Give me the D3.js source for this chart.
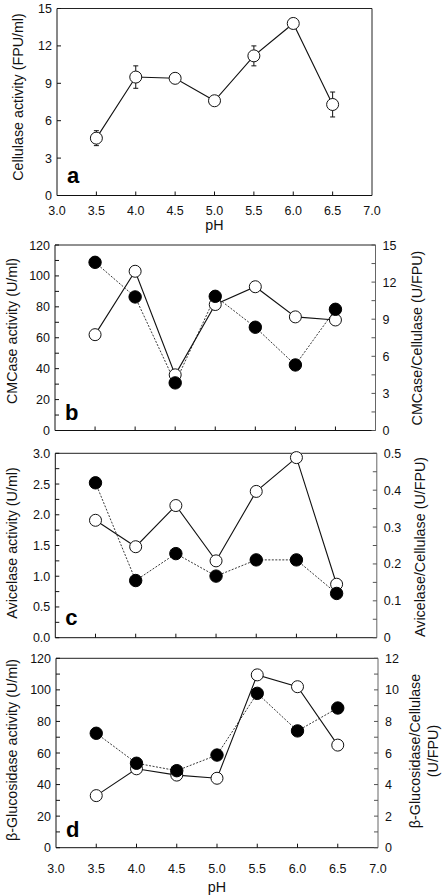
<!DOCTYPE html>
<html><head><meta charset="utf-8">
<script src="https://cdn.jsdelivr.net/npm/d3@7"></script>
<style>
html,body{margin:0;padding:0;background:#fff;}
svg{display:block;font-family:"Liberation Sans",Arial,Helvetica,sans-serif;}
</style></head>
<body>
<svg id="chart" width="444" height="896"></svg>
<script>
// ---- data ----
const pH = [3.5, 4.0, 4.5, 5.0, 5.5, 6.0, 6.5];
const xTicks = [3.0, 3.5, 4.0, 4.5, 5.0, 5.5, 6.0, 6.5, 7.0];

const cellulase = [4.6, 9.5, 9.4, 7.6, 11.2, 13.8, 7.3];
const cellulaseErr = [0.6, 0.9, 0.3, 0.3, 0.8, 0.3, 1.0];

const cmcase = [62, 103, 36, 81.5, 93, 73.5, 71.5];
const cmcaseRatio = [13.6, 10.8, 3.85, 10.85, 8.35, 5.3, 9.8];

const avicelase = [1.91, 1.48, 2.15, 1.25, 2.38, 2.93, 0.87];
const avicelaseRatio = [0.42, 0.155, 0.228, 0.167, 0.211, 0.211, 0.12];

const bgluc = [33, 50, 46, 44, 109.5, 102, 65];
const bglucRatio = [7.25, 5.35, 4.88, 5.87, 9.78, 7.4, 8.85];

const aYTicks = [0, 3, 6, 9, 12, 15];
const bYTicks = [0, 20, 40, 60, 80, 100, 120];
const bRTicks = [0, 3, 6, 9, 12, 15];
const cYTicks = [0, 0.5, 1.0, 1.5, 2.0, 2.5, 3.0];
const cRTicks = [0, 0.1, 0.2, 0.3, 0.4, 0.5];
const dYTicks = [0, 20, 40, 60, 80, 100, 120];
const dRTicks = [0, 2, 4, 6, 8, 10, 12];

const svg = d3.select("#chart");
const TICK = 4;
const TICKFS = 12.5;
const TITLEFS = 14.3;

function panel(cfg) {
  const g = svg.append("g");
  const x = d3.scaleLinear().domain([3, 7]).range([cfg.left, cfg.right]);
  const y = d3.scaleLinear().domain([0, cfg.yMax]).range([cfg.bottom, cfg.top]);
  const yr = cfg.rMax ? d3.scaleLinear().domain([0, cfg.rMax]).range([cfg.bottom, cfg.top]) : null;

  // frame
  g.append("line").attr("x1", cfg.left).attr("x2", cfg.right).attr("y1", cfg.top).attr("y2", cfg.top).attr("stroke", "#222");
  g.append("line").attr("x1", cfg.left).attr("x2", cfg.right).attr("y1", cfg.bottom).attr("y2", cfg.bottom).attr("stroke", "#111");
  g.append("line").attr("x1", cfg.left).attr("x2", cfg.left).attr("y1", cfg.top).attr("y2", cfg.bottom).attr("stroke", "#111");
  g.append("line").attr("x1", cfg.right).attr("x2", cfg.right).attr("y1", cfg.top).attr("y2", cfg.bottom).attr("stroke", cfg.rMax ? "#666" : "#222");

  // x ticks (inward)
  g.selectAll(".xt").data(xTicks.slice(1, -1)).enter().append("line")
    .attr("x1", d => x(d)).attr("x2", d => x(d))
    .attr("y1", cfg.bottom).attr("y2", cfg.bottom - TICK).attr("stroke", "#111");
  if (cfg.xLabels) {
    g.selectAll(".xl").data(xTicks).enter().append("text")
      .attr("x", d => x(d)).attr("y", cfg.bottom + cfg.xLabOff)
      .attr("text-anchor", "middle").attr("font-size", TICKFS).attr("fill", "#111")
      .text(d => d.toFixed(1));
    g.append("text").attr("x", (cfg.left + cfg.right) / 2).attr("y", cfg.bottom + cfg.pHOff)
      .attr("text-anchor", "middle").attr("font-size", TITLEFS).attr("fill", "#111").text("pH");
  }

  // left y ticks
  const yt = cfg.yTicks;
  g.selectAll(".yt").data(yt).enter().append("line")
    .attr("x1", cfg.left).attr("x2", cfg.left + TICK)
    .attr("y1", d => y(d)).attr("y2", d => y(d)).attr("stroke", "#111");
  if (cfg.minor) {
    const mids = yt.slice(0, -1).map((d, i) => (d + yt[i + 1]) / 2);
    g.selectAll(".ym").data(mids).enter().append("line")
      .attr("x1", cfg.left).attr("x2", cfg.left + TICK)
      .attr("y1", d => y(d)).attr("y2", d => y(d)).attr("stroke", "#111");
  }
  g.selectAll(".yl").data(yt).enter().append("text")
    .attr("x", cfg.left - 5).attr("y", d => y(d) + 4.5)
    .attr("text-anchor", "end").attr("font-size", TICKFS).attr("fill", "#111")
    .text(d => cfg.yFmt(d));
  g.append("text")
    .attr("transform", `translate(${cfg.yTitleX},${cfg.yTitleY}) rotate(-90)`)
    .attr("text-anchor", "middle").attr("font-size", TITLEFS).attr("fill", "#111")
    .text(cfg.yTitle);

  // right axis
  if (yr) {
    const rt = cfg.rTicks;
    const mids = rt.slice(0, -1).map((d, i) => (d + rt[i + 1]) / 2);
    g.selectAll(".rt").data(rt.concat(mids)).enter().append("line")
      .attr("x1", cfg.right).attr("x2", cfg.right - TICK)
      .attr("y1", d => yr(d)).attr("y2", d => yr(d)).attr("stroke", "#555");
    g.selectAll(".rl").data(rt).enter().append("text")
      .attr("x", cfg.right + 7).attr("y", d => yr(d) + 4.5)
      .attr("text-anchor", "start").attr("font-size", TICKFS).attr("fill", "#111")
      .text(d => cfg.rFmt(d));
    cfg.rTitle.forEach((t, i) => {
      g.append("text")
        .attr("transform", `translate(${cfg.rTitleX + i * 18},${cfg.rTitleY}) rotate(-90)`)
        .attr("text-anchor", "middle").attr("font-size", TITLEFS).attr("fill", "#111")
        .text(t);
    });
  }

  // panel letter
  g.append("text").attr("x", cfg.left + 10).attr("y", cfg.letterY)
    .attr("font-size", 22).attr("font-weight", "bold").attr("fill", "#000").text(cfg.letter);

  const line = d3.line().x((d, i) => x(pH[i]));

  // error bars
  if (cfg.err) {
    cfg.open.forEach((v, i) => {
      const e = cfg.err[i];
      const px = x(pH[i]);
      g.append("line").attr("x1", px).attr("x2", px).attr("y1", y(v - e)).attr("y2", y(v + e)).attr("stroke", "#111");
      [v - e, v + e].forEach(w => {
        g.append("line").attr("x1", px - 2.5).attr("x2", px + 2.5).attr("y1", y(w)).attr("y2", y(w)).attr("stroke", "#111");
      });
    });
  }

  if (cfg.filled) {
    g.append("path").datum(cfg.filled)
      .attr("d", line.y(d => yr(d)))
      .attr("fill", "none").attr("stroke", "#222").attr("stroke-width", 0.9).attr("stroke-dasharray", "2,1.5");
  }
  g.append("path").datum(cfg.open)
    .attr("d", line.y(d => y(d)))
    .attr("fill", "none").attr("stroke", "#111").attr("stroke-width", 1.1);

  g.selectAll(".po").data(cfg.open).enter().append("circle")
    .attr("cx", (d, i) => x(pH[i])).attr("cy", d => y(d)).attr("r", 6)
    .attr("fill", "#fff").attr("stroke", "#111").attr("stroke-width", 1);
  if (cfg.filled) {
    g.selectAll(".pf").data(cfg.filled).enter().append("circle")
      .attr("cx", (d, i) => x(pH[i])).attr("cy", d => yr(d)).attr("r", 6.2)
      .attr("fill", "#000").attr("stroke", "#000");
  }
}

panel({
  left: 57, right: 372, top: 8.5, bottom: 195.5,
  yMax: 15, yTicks: aYTicks, yFmt: d => d, minor: false,
  yTitle: "Cellulase activity (FPU/ml)", yTitleX: 23, yTitleY: 97,
  open: cellulase, err: cellulaseErr,
  letter: "a", letterY: 183, xLabels: true, xLabOff: 19.5, pHOff: 34.5
});
panel({
  left: 55, right: 375.5, top: 245, bottom: 430.5,
  yMax: 120, yTicks: bYTicks, yFmt: d => d, minor: true,
  rMax: 15, rTicks: bRTicks, rFmt: d => d,
  yTitle: "CMCase activity (U/ml)", yTitleX: 17, yTitleY: 331,
  rTitle: ["CMCase/Cellulase (U/FPU)"], rTitleX: 422, rTitleY: 338,
  open: cmcase, filled: cmcaseRatio,
  letter: "b", letterY: 420
});
panel({
  left: 55.3, right: 376.8, top: 453.3, bottom: 637.7,
  yMax: 3, yTicks: cYTicks, yFmt: d => d.toFixed(1), minor: true,
  rMax: 0.5, rTicks: cRTicks, rFmt: d => d === 0 ? "0" : d.toFixed(1),
  yTitle: "Avicelase activity (U/ml)", yTitleX: 17, yTitleY: 543,
  rTitle: ["Avicelase/Cellulase (U/FPU)"], rTitleX: 425, rTitleY: 547,
  open: avicelase, filled: avicelaseRatio,
  letter: "c", letterY: 625
});
panel({
  left: 56, right: 378, top: 658.3, bottom: 847.7,
  yMax: 120, yTicks: dYTicks, yFmt: d => d, minor: true,
  rMax: 12, rTicks: dRTicks, rFmt: d => d,
  yTitle: "\u03B2-Glucosidase activity (U/ml)", yTitleX: 17, yTitleY: 750,
  rTitle: ["\u03B2-Glucosidase/Cellulase", "(U/FPU)"], rTitleX: 420, rTitleY: 751,
  open: bgluc, filled: bglucRatio,
  letter: "d", letterY: 837, xLabels: true, xLabOff: 25, pHOff: 44.5
});
</script>
</body></html>
